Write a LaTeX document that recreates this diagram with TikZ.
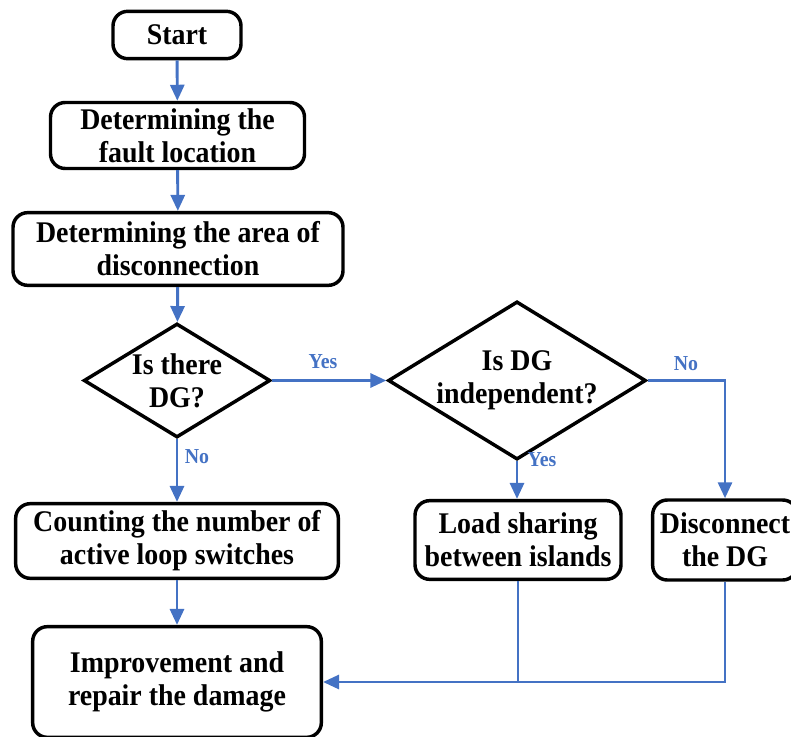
\documentclass[tikz,border=0pt]{standalone}
\usepackage{fontspec}
\setmainfont[FakeStretch=0.93]{Liberation Serif}
\usetikzlibrary{shapes.geometric,arrows.meta}
\definecolor{flowblue}{HTML}{4472C4}
\begin{document}
\begin{tikzpicture}[x=0.75pt, y=-0.75pt,
  box/.style={draw, line width=2.6pt, rounded corners=11pt, align=center, inner sep=0pt,
    font=\fontsize{22.5}{24.75}\selectfont\bfseries},
  decision/.style={draw, diamond, line width=2.6pt, align=center, inner sep=0pt,
    font=\fontsize{22.5}{24.75}\selectfont\bfseries},
  flow/.style={draw=flowblue, line width=2.2pt, -{Triangle[length=12pt,width=10.5pt]}},
  link/.style={draw=flowblue, line width=2.2pt},
  lbl/.style={text=flowblue, font=\fontsize{16}{18}\selectfont\bfseries, inner sep=0pt}]
\useasboundingbox (0,0) rectangle (791,737);
\node[box, minimum width=96pt, minimum height=35.5pt] (start) at (177,35){Start};
\node[box, minimum width=190.5pt, minimum height=49.5pt] (fault) at (177.5,135.5){Determining the\\fault location};
\node[box, minimum width=247.5pt, minimum height=54.5pt] (area) at (178,249){Determining the area of\\disconnection};
\node[decision, minimum width=140pt, minimum height=85.5pt, shape aspect=1.64] (isdg) at (177,380.5){Is there\\DG?};
\node[decision, minimum width=192pt, minimum height=118pt, shape aspect=1.63] (indep) at (517,380.5){Is DG\\independent?};
\node[box, minimum width=242pt, minimum height=56pt] (count) at (177,541){Counting the number of\\active loop switches};
\node[box, minimum width=154.5pt, minimum height=59pt] (load) at (518,540){Load sharing\\between islands};
\node[box, minimum width=108.5pt, minimum height=60pt] (disc) at (725,540){Disconnect\\the DG};
\node[box, minimum width=216.5pt, minimum height=83pt] (repair) at (177,682){Improvement and\\repair the damage};
% connectors
\draw[flow](start) -- (fault);
\draw[flow](fault) -- (area);
\draw[flow](area) -- (isdg);
\draw[flow](isdg.east) -- (indep.west);
\draw[flow](isdg.south) -- (count);
\draw[flow](count) -- (repair);
\draw[flow](indep.south) -- (load.north -| indep.south);
\draw[flow](indep.east) -| (disc.north);
\coordinate (join) at (load.south |- repair.east);
\draw[link](load.south) -- (join);
\draw[flow](disc.south) |- (repair.east);
% labels
\node[lbl] (yes1) at (323,362){Yes};
\node[lbl] (no1) at (197,457){No};
\node[lbl] (yes2) at (542,460){Yes};
\node[lbl] (no2) at (686,364){No};
\end{tikzpicture}
\end{document}
